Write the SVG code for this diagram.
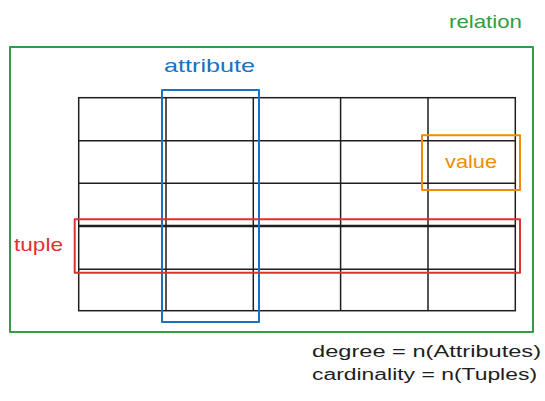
<svg xmlns="http://www.w3.org/2000/svg" width="545" height="401" viewBox="0 0 545 401">
<style>
.frame{fill:none;stroke-width:2;stroke-linejoin:round}
.grid{fill:none;stroke:#1e1e1e;stroke-width:1.5}
.lbl{font-family:"Liberation Sans","DejaVu Sans",sans-serif;font-size:19px}
.note{font-family:"Liberation Sans","DejaVu Sans",sans-serif;font-size:16px;fill:#1e1e1e}
</style>
<rect width="545" height="401" fill="#ffffff"/>
<g id="table">
<rect class="grid" x="78.7" y="97.7" width="436.6" height="213"/>
<path class="grid" d="M166 97.7V310.7M253.3 97.7V310.7M340.6 97.7V310.7M428 97.7V310.7M78.7 140.7H515.3M78.7 183.3H515.3M78.7 269.3H515.3"/>
<path d="M78.7 226H515.3" stroke="#1e1e1e" stroke-width="2.5" fill="none"/>
</g>
<g id="relation">
<rect class="frame" x="10" y="47" width="523" height="285" stroke="#2f9e44"/>
<text class="lbl" x="449" y="28" fill="#2f9e44" textLength="73" lengthAdjust="spacingAndGlyphs">relation</text>
</g>
<g id="attribute">
<rect class="frame" x="162" y="90" width="97" height="232" stroke="#1971c2"/>
<text class="lbl" x="164" y="72" fill="#1971c2" textLength="91" lengthAdjust="spacingAndGlyphs">attribute</text>
</g>
<g id="value">
<rect class="frame" x="422" y="135.3" width="98" height="54.7" stroke="#f08c00"/>
<text class="lbl" x="445" y="168" fill="#f08c00" textLength="52" lengthAdjust="spacingAndGlyphs">value</text>
</g>
<g id="tuple">
<rect class="frame" x="74.7" y="219.3" width="445.3" height="53.4" stroke="#e03131"/>
<text class="lbl" x="14" y="251" fill="#e03131" textLength="49" lengthAdjust="spacingAndGlyphs">tuple</text>
</g>
<g id="notes">
<text class="note" x="312" y="357" textLength="229" lengthAdjust="spacingAndGlyphs">degree = n(Attributes)</text>
<text class="note" x="312" y="380" textLength="225" lengthAdjust="spacingAndGlyphs">cardinality = n(Tuples)</text>
</g>
<g id="connectors"/>
</svg>
